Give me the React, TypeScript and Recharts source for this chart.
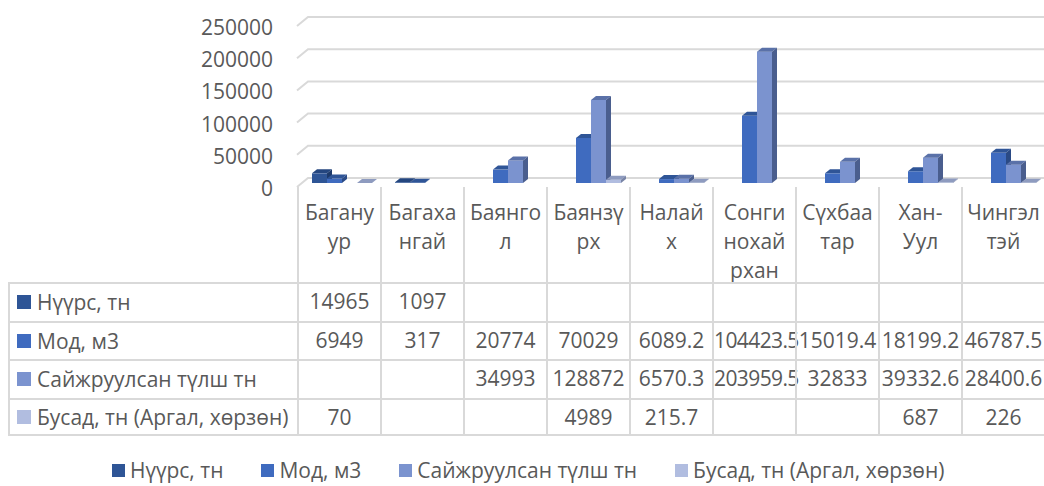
import { BarChart, Bar, XAxis, YAxis, CartesianGrid } from 'recharts'

const categories = [
  'Багануур',
  'Багахангай',
  'Баянгол',
  'Баянзүрх',
  'Налайх',
  'Сонгинохайрхан',
  'Сүхбаатар',
  'Хан-Уул',
  'Чингэлтэй',
]

// how Excel wrapped the labels in the data table header
const categoryLines = [
  ['Багану', 'ур'],
  ['Багаха', 'нгай'],
  ['Баянго', 'л'],
  ['Баянзү', 'рх'],
  ['Налай', 'х'],
  ['Сонги', 'нохай', 'рхан'],
  ['Сүхбаа', 'тар'],
  ['Хан-', 'Уул'],
  ['Чингэл', 'тэй'],
]

const coal = [14965, 1097, null, null, null, null, null, null, null]
const wood = [6949, 317, 20774, 70029, 6089.2, 104423.5, 15019.4, 18199.2, 46787.5]
const improvedFuel = [null, null, 34993, 128872, 6570.3, 203959.5, 32833, 39332.6, 28400.6]
const other = [70, null, null, 4989, 215.7, null, null, 687, 226]

const seriesNames = ['Нүүрс, тн', 'Мод, м3', 'Сайжруулсан түлш тн', 'Бусад, тн (Аргал, хөрзөн)']
const seriesValues = [coal, wood, improvedFuel, other]
const seriesColors = ['#2e5596', '#3f6bbf', '#7b93cf', '#b1bde0']
const seriesTops = ['#24467f', '#2f5597', '#5a71a8', '#8e9bbf']
const seriesSides = ['#1d3a6b', '#2a4a85', '#4a5e8e', '#7884a6']

const yTicks = [0, 50000, 100000, 150000, 200000, 250000]

const chartData = categories.map((name, i) => {
  const row: Record<string, string | number | null> = { name }
  seriesValues.forEach((vals, s) => {
    row[`s${s}`] = vals[i]
  })
  return row
})

const FONT = '"Open Sans", "Noto Sans", sans-serif'
const FS = 21
const TEXT = '#595959'
const LINE = '#d9d9d9'

const COL_X0 = 297
const COL_W = 83
const ROW_TOP = 282
const ROW_H = 38.5

function Bar3D(props: any) {
  const { x, y, width, height, index, seriesIndex } = props
  if (x == null || y == null || height == null) return null
  const dx = 5
  const dy = 4
  const h = Math.max(height, 0)
  return (
    <g key={index}>
      <rect x={x} y={y} width={width} height={h} fill={seriesColors[seriesIndex]} />
      <polygon
        points={`${x},${y} ${x + dx},${y - dy} ${x + width + dx},${y - dy} ${x + width},${y}`}
        fill={seriesTops[seriesIndex]}
      />
      <polygon
        points={`${x + width},${y} ${x + width + dx},${y - dy} ${x + width + dx},${y + h - dy} ${x + width},${y + h}`}
        fill={seriesSides[seriesIndex]}
      />
    </g>
  )
}

function YTick(props: any) {
  const { y, payload } = props
  return (
    <text x={273} y={y + 5} textAnchor="end" dominantBaseline="central" fill={TEXT} fontSize={FS} fontFamily={FONT}>
      {payload.value}
    </text>
  )
}

function GridLine(props: any) {
  const { x1, x2, y1, index } = props
  return (
    <path
      key={`g-${index}`}
      d={`M${x1 - 3},${y1 + 4} L${x1 + 8},${y1 - 5} L${x2},${y1 - 5}`}
      stroke={LINE}
      strokeWidth={2}
      fill="none"
    />
  )
}

function fmt(v: number | null) {
  return v == null ? '' : String(v)
}

function DataTable() {
  return (
    <div style={{ position: 'absolute', left: 0, top: 0, width: 1044, height: 486, fontSize: FS, color: TEXT }}>
      {/* header: wrapped category names */}
      {categoryLines.map((lines, i) => (
        <div
          key={categories[i]}
          style={{
            position: 'absolute',
            left: COL_X0 + i * COL_W,
            top: 187,
            width: COL_W,
            height: ROW_TOP - 187,
            borderLeft: `2px solid ${LINE}`,
            boxSizing: 'border-box',
            textAlign: 'center',
            paddingTop: 11,
            lineHeight: '29px',
          }}
        >
          {lines.map((l, k) => (
            <div key={k}>{l}</div>
          ))}
        </div>
      ))}
      {/* body rows */}
      {seriesNames.map((name, s) => (
        <div key={name}>
          <div
            style={{
              position: 'absolute',
              left: 8,
              top: ROW_TOP + s * ROW_H,
              width: COL_X0 - 8,
              height: ROW_H,
              borderLeft: `2px solid ${LINE}`,
              borderTop: `2px solid ${LINE}`,
              borderBottom: s === seriesNames.length - 1 ? `2px solid ${LINE}` : undefined,
              boxSizing: 'border-box',
              display: 'flex',
              alignItems: 'center',
              paddingLeft: 7,
              whiteSpace: 'nowrap',
            }}
          >
            <span style={{ display: 'inline-block', width: 14, height: 14, background: seriesColors[s], marginRight: 6 }} />
            {name}
          </div>
          {seriesValues[s].map((v, i) => (
            <div
              key={i}
              style={{
                position: 'absolute',
                left: COL_X0 + i * COL_W,
                top: ROW_TOP + s * ROW_H,
                width: COL_W,
                height: ROW_H,
                borderLeft: `2px solid ${LINE}`,
                borderTop: `2px solid ${LINE}`,
                borderBottom: s === seriesNames.length - 1 ? `2px solid ${LINE}` : undefined,
                boxSizing: 'border-box',
                lineHeight: `${ROW_H - 3}px`,
                textAlign: 'center',
                whiteSpace: 'nowrap',
                letterSpacing: fmt(v).length > 7 ? -0.6 : 0,
              }}
            >
              {fmt(v)}
            </div>
          ))}
        </div>
      ))}
      {/* legend */}
      <div
        style={{
          position: 'absolute',
          left: 112,
          top: 456,
          display: 'flex',
          gap: 38,
          lineHeight: '28px',
        }}
      >
        {seriesNames.map((name, s) => (
          <div key={name} style={{ display: 'flex', alignItems: 'center', whiteSpace: 'nowrap' }}>
            <span style={{ display: 'inline-block', width: 13, height: 13, background: seriesColors[s], marginRight: 5 }} />
            {name}
          </div>
        ))}
      </div>
    </div>
  )
}

export default function App() {
  return (
    <div
      style={{
        position: 'absolute',
        left: 0,
        top: 0,
        width: 1044,
        height: 486,
        overflow: 'hidden',
        background: '#fff',
        fontFamily: FONT,
      }}
    >
      <BarChart
        width={1047}
        height={212}
        data={chartData}
        margin={{ top: 22, right: 0, bottom: 29, left: 0 }}
        barGap={0}
        barCategoryGap={11.5}
      >
        <CartesianGrid vertical={false} horizontal={GridLine} />
        <XAxis dataKey="name" hide />
        <YAxis
          domain={[0, 250000]}
          ticks={yTicks}
          width={300}
          axisLine={false}
          tickLine={false}
          tick={YTick}
          interval={0}
        />
        {seriesNames.map((name, s) => (
          <Bar
            key={name}
            dataKey={`s${s}`}
            name={name}
            barSize={15}
            isAnimationActive={false}
            shape={(p: any) => <Bar3D {...p} seriesIndex={s} />}
          />
        ))}
      </BarChart>
      <DataTable />
    </div>
  )
}
